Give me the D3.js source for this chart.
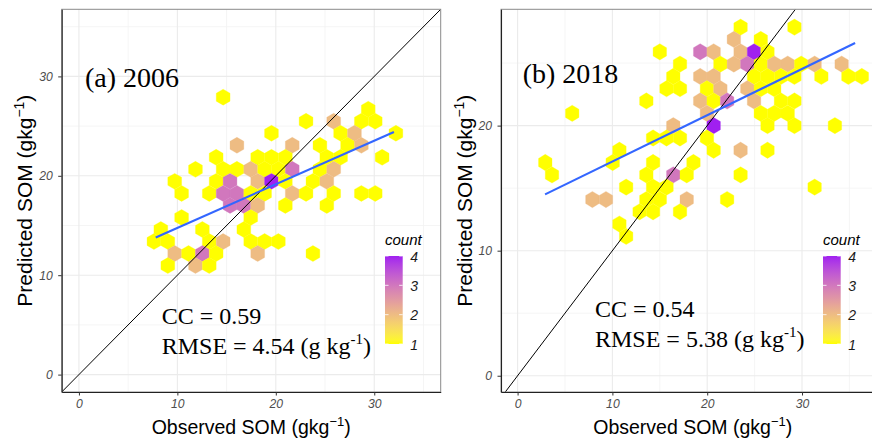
<!DOCTYPE html>
<html><head><meta charset="utf-8">
<script src="https://cdn.jsdelivr.net/npm/d3@7"></script>
<style>body{margin:0;background:#fff} svg{display:block}</style>
</head><body>
<svg id="chart" width="872" height="441"></svg>
<script>
// ---------------- data ----------------
const xTicks = [0, 10, 20, 30];
const xMinorTicks = [5, 15, 25, 35];
const aYTicks = [0, 10, 20, 30];
const aYMinorTicks = [5, 15, 25, 35];
const bYTicks = [0, 10, 20];
const bYMinorTicks = [5, 15, 25];
const countTicks = [1, 2, 3, 4];

// Panel (a) 2006 : hex-bin centres (observed, predicted) and counts
const aHexX = [
  14.65,
  29.39,
  23.07, 25.88, 28.69, 30.10,
  19.56, 26.58, 27.99, 32.20,
  16.05, 21.67, 24.48, 27.29, 28.69,
  13.94, 18.16, 19.56, 20.97, 25.18, 26.58, 30.80,
  11.84, 14.65, 16.05, 17.45, 18.86, 20.26, 21.67, 24.48, 25.88,
  9.73, 13.94, 15.35, 18.16, 19.56, 20.97, 23.77, 25.18,
  10.43, 13.24, 14.65, 16.05, 17.45, 18.86, 21.67, 23.07, 25.88, 28.69, 30.10,
  15.35, 16.75, 18.16, 20.97, 25.18,
  10.43, 17.45,
  8.32, 12.54, 16.75,
  7.62, 9.03, 13.24, 14.65, 17.45, 18.86, 20.26,
  9.73, 11.13, 12.54, 13.94, 18.16, 23.77,
  9.03, 11.84, 13.24
];
const aHexY = [
  27.91,
  26.70,
  25.49, 25.49, 25.49, 25.49,
  24.28, 24.28, 24.28, 24.28,
  23.07, 23.07, 23.07, 23.07, 23.07,
  21.86, 21.86, 21.86, 21.86, 21.86, 21.86, 21.86,
  20.65, 20.65, 20.65, 20.65, 20.65, 20.65, 20.65, 20.65, 20.65,
  19.44, 19.44, 19.44, 19.44, 19.44, 19.44, 19.44, 19.44,
  18.23, 18.23, 18.23, 18.23, 18.23, 18.23, 18.23, 18.23, 18.23, 18.23, 18.23,
  17.02, 17.02, 17.02, 17.02, 17.02,
  15.81, 15.81,
  14.60, 14.60, 14.60,
  13.39, 13.39, 13.39, 13.39, 13.39, 13.39, 13.39,
  12.18, 12.18, 12.18, 12.18, 12.18, 12.18,
  10.97, 10.97, 10.97
];
const aHexCount = [
  1,
  1,
  1, 2, 1, 1,
  1, 1, 2, 1,
  2, 2, 1, 1, 2,
  1, 1, 1, 1, 1, 1, 1,
  1, 1, 1, 2, 1, 1, 3, 1, 2,
  1, 1, 3, 2, 4, 1, 1, 2,
  1, 1, 3, 3, 1, 1, 2, 1, 1, 1, 1,
  3, 3, 2, 1, 1,
  1, 1,
  1, 1, 1,
  1, 1, 1, 2, 1, 1, 1,
  2, 1, 3, 1, 2, 1,
  1, 2, 1
];
const aFitX = [7.8, 32.0];
const aFitY = [13.8, 24.4];

// Panel (b) 2018
const bHexX = [
  23.52, 29.20,
  22.81, 25.65,
  15.00, 19.26, 20.68, 23.52, 24.94, 26.36,
  17.13, 21.39, 22.81, 24.23, 25.65, 27.07, 28.49, 29.91, 31.33, 34.18,
  16.42, 19.26, 20.68, 24.94, 26.36, 27.78, 29.20, 32.04, 34.89, 36.31,
  15.71, 17.13, 19.97, 21.39, 24.23, 25.65, 27.07,
  13.58, 19.26, 20.68, 22.10, 24.94, 27.78, 29.20,
  5.76, 19.97, 25.65, 27.07, 28.49,
  16.42, 20.68, 26.36, 29.20, 33.47,
  14.29, 15.71, 17.13, 19.97,
  10.74, 20.68, 23.52, 26.36,
  2.92, 10.03, 14.29, 18.55,
  3.63, 13.58, 16.42, 17.84, 23.52,
  11.45, 14.29, 15.71, 31.33,
  7.89, 9.32, 13.58, 15.00, 17.84, 22.10,
  12.87, 14.29, 17.13,
  10.74,
  11.45
];
const bHexY = [
  27.87, 27.87,
  26.89, 26.89,
  25.90, 25.90, 25.90, 25.90, 25.90, 25.90,
  24.92, 24.92, 24.92, 24.92, 24.92, 24.92, 24.92, 24.92, 24.92, 24.92,
  23.93, 23.93, 23.93, 23.93, 23.93, 23.93, 23.93, 23.93, 23.93, 23.93,
  22.95, 22.95, 22.95, 22.95, 22.95, 22.95, 22.95,
  21.97, 21.97, 21.97, 21.97, 21.97, 21.97, 21.97,
  20.98, 20.98, 20.98, 20.98, 20.98,
  20.00, 20.00, 20.00, 20.00, 20.00,
  19.01, 19.01, 19.01, 19.01,
  18.03, 18.03, 18.03, 18.03,
  17.05, 17.05, 17.05, 17.05,
  16.06, 16.06, 16.06, 16.06, 16.06,
  15.08, 15.08, 15.08, 15.08,
  14.09, 14.09, 14.09, 14.09, 14.09, 14.09,
  13.11, 13.11, 13.11,
  12.13,
  11.14
];
const bHexCount = [
  1, 1,
  2, 1,
  1, 3, 2, 2, 4, 1,
  1, 1, 2, 3, 1, 2, 2, 1, 2, 2,
  1, 2, 2, 1, 1, 1, 1, 1, 1, 1,
  1, 1, 1, 2, 2, 1, 1,
  1, 2, 1, 3, 2, 1, 1,
  1, 2, 1, 1, 1,
  2, 4, 1, 1, 1,
  1, 1, 1, 1,
  1, 1, 2, 1,
  1, 1, 1, 1,
  1, 1, 3, 1, 1,
  1, 1, 1, 1,
  2, 2, 1, 1, 2, 1,
  1, 1, 1,
  1,
  1
];
const bFitX = [2.9, 35.6];
const bFitY = [14.5, 26.6];

// ---------------- drawing ----------------
const SANS = "'Liberation Sans', Arial, sans-serif";
const SERIF = "'Liberation Serif', 'Times New Roman', serif";
const svg = d3.select('#chart');
const defs = svg.append('defs');
const countColor = d3.scaleLinear().domain([1, 4]).range(['#ffff00', '#a020f0']).interpolate(d3.interpolateLab);

function resolution(vals) {
  const u = Array.from(new Set(vals)).sort((p, q) => p - q);
  let r = Infinity;
  for (let i = 1; i < u.length; i++) { const d = u[i] - u[i - 1]; if (d > 0.05 && d < r) r = d; }
  return r;
}

function drawPanel(cfg) {
  const x = d3.scaleLinear().domain(cfg.xDomain).range([cfg.left, cfg.right]);
  const y = d3.scaleLinear().domain(cfg.yDomain).range([cfg.bottom, cfg.top]);
  const W = cfg.right - cfg.left, H = cfg.bottom - cfg.top;
  const g = svg.append('g');

  defs.append('clipPath').attr('id', 'clip' + cfg.id)
    .append('rect').attr('x', cfg.left).attr('y', cfg.top).attr('width', W).attr('height', H);

  g.append('rect').attr('x', cfg.left).attr('y', cfg.top).attr('width', W).attr('height', H).attr('fill', '#fff');

  // grid
  const grid = g.append('g');
  grid.selectAll('.vmin').data(xMinorTicks).join('line')
    .attr('x1', d => x(d)).attr('x2', d => x(d)).attr('y1', cfg.top).attr('y2', cfg.bottom)
    .attr('stroke', '#f2f2f2').attr('stroke-width', 0.8);
  grid.selectAll('.hmin').data(cfg.yMinor).join('line')
    .attr('y1', d => y(d)).attr('y2', d => y(d)).attr('x1', cfg.left).attr('x2', cfg.right)
    .attr('stroke', '#f2f2f2').attr('stroke-width', 0.8);
  grid.selectAll('.vmaj').data(xTicks).join('line')
    .attr('x1', d => x(d)).attr('x2', d => x(d)).attr('y1', cfg.top).attr('y2', cfg.bottom)
    .attr('stroke', '#ebebeb').attr('stroke-width', 1.1);
  grid.selectAll('.hmaj').data(cfg.yTicks).join('line')
    .attr('y1', d => y(d)).attr('y2', d => y(d)).attr('x1', cfg.left).attr('x2', cfg.right)
    .attr('stroke', '#ebebeb').attr('stroke-width', 1.1);

  // hexes
  const hx = resolution(cfg.hexX);
  const hy = resolution(cfg.hexY) / Math.sqrt(3) / 2 * 1.15;
  const offs = [[hx, hy], [0, 2 * hy], [-hx, hy], [-hx, -hy], [0, -2 * hy], [hx, -hy]];
  const cells = cfg.hexX.map((v, i) => ({ x: v, y: cfg.hexY[i], c: cfg.hexCount[i] }));
  const data = g.append('g').attr('clip-path', `url(#clip${cfg.id})`);
  data.selectAll('path.hex').data(cells).join('path')
    .attr('class', 'hex')
    .attr('d', d => 'M' + offs.map(o => [x(d.x + o[0]), y(d.y + o[1])].join(',')).join('L') + 'Z')
    .attr('fill', d => countColor(d.c))
    .attr('stroke', d => countColor(d.c)).attr('stroke-width', 0.3);

  // 1:1 line
  const lo = Math.max(cfg.xDomain[0], cfg.yDomain[0]), hi = Math.min(cfg.xDomain[1], cfg.yDomain[1]);
  data.append('line').attr('x1', x(lo)).attr('y1', y(lo)).attr('x2', x(hi)).attr('y2', y(hi))
    .attr('stroke', '#000').attr('stroke-width', 1);
  // fitted line
  data.append('path').datum(cfg.fitX.map((v, i) => [v, cfg.fitY[i]]))
    .attr('d', d3.line().x(d => x(d[0])).y(d => y(d[1])))
    .attr('stroke', '#3366ff').attr('stroke-width', 2.1).attr('fill', 'none');

  // border
  g.append('rect').attr('x', cfg.left).attr('y', cfg.top).attr('width', W).attr('height', H)
    .attr('fill', 'none').attr('stroke', '#8a8a8a').attr('stroke-width', 1);

  // axes
  const xa = g.append('g').attr('transform', `translate(0,${cfg.bottom})`)
    .call(d3.axisBottom(x).tickValues(xTicks).tickSize(3.5).tickSizeOuter(0).tickPadding(3.5));
  const ya = g.append('g').attr('transform', `translate(${cfg.left},0)`)
    .call(d3.axisLeft(y).tickValues(cfg.yTicks).tickSize(3.5).tickSizeOuter(0).tickPadding(5.5));
  [xa, ya].forEach(a => {
    a.select('.domain').attr('stroke', '#222').attr('stroke-width', 1.1);
    a.selectAll('.tick line').attr('stroke', '#333').attr('stroke-width', 1);
    a.selectAll('.tick text').attr('fill', '#4d4d4d').attr('font-family', SANS)
      .attr('font-size', 12.2).attr('font-style', 'italic');
  });

  // axis titles
  const xt = svg.append('text').attr('x', (cfg.left + cfg.right) / 2).attr('y', 434)
    .attr('text-anchor', 'middle').attr('font-family', SANS).attr('font-size', 19.5).attr('fill', '#000');
  xt.append('tspan').text('Observed SOM (gkg');
  xt.append('tspan').text('\u22121').attr('font-size', 13).attr('dy', -8);
  xt.append('tspan').text(')').attr('dy', 8);

  const yt = svg.append('text')
    .attr('transform', `translate(${cfg.yTitleX},${(cfg.top + cfg.bottom) / 2}) rotate(-90)`)
    .attr('text-anchor', 'middle').attr('font-family', SANS).attr('font-size', 21).attr('fill', '#000');
  yt.append('tspan').text('Predicted SOM (gkg');
  yt.append('tspan').text('\u22121').attr('font-size', 14).attr('dy', -8.5);
  yt.append('tspan').text(')').attr('dy', 8.5);

  // annotations
  svg.append('text').attr('x', cfg.label[0]).attr('y', cfg.label[1]).text(cfg.label[2])
    .attr('font-family', SERIF).attr('font-size', 28).attr('fill', '#000');
  svg.append('text').attr('x', cfg.cc[0]).attr('y', cfg.cc[1]).text(cfg.cc[2])
    .attr('font-family', SERIF).attr('font-size', 24).attr('fill', '#000');
  const rm = svg.append('text').attr('x', cfg.cc[0]).attr('y', cfg.rmse[1])
    .attr('font-family', SERIF).attr('font-size', 24).attr('fill', '#000');
  rm.append('tspan').text(cfg.rmse[0]);
  rm.append('tspan').text('-1').attr('font-size', 15).attr('dy', -10);
  rm.append('tspan').text(')').attr('dy', 10);

  // legend
  const lg = svg.append('g');
  const ls = d3.scaleLinear().domain([1, 4]).range([344, 256]);
  const gid = 'grad' + cfg.id;
  const grad = defs.append('linearGradient').attr('id', gid)
    .attr('x1', 0).attr('y1', 1).attr('x2', 0).attr('y2', 0);
  d3.range(0, 21).forEach(i => {
    grad.append('stop').attr('offset', i / 20).attr('stop-color', countColor(1 + 3 * i / 20));
  });
  const bw = 17.7;
  lg.append('text').attr('x', cfg.legX).attr('y', 244.5).text('count')
    .attr('font-family', SANS).attr('font-size', 15).attr('font-style', 'italic').attr('fill', '#000');
  lg.append('rect').attr('x', cfg.legX).attr('y', ls(4)).attr('width', bw).attr('height', ls(1) - ls(4))
    .attr('fill', `url(#${gid})`);
  lg.selectAll('line.lt').data(countTicks).join('line')
    .attr('x1', cfg.legX).attr('x2', cfg.legX + bw / 5).attr('y1', d => ls(d)).attr('y2', d => ls(d))
    .attr('stroke', '#fff').attr('stroke-width', 0.8);
  lg.selectAll('line.rt').data(countTicks).join('line')
    .attr('x1', cfg.legX + bw - bw / 5).attr('x2', cfg.legX + bw).attr('y1', d => ls(d)).attr('y2', d => ls(d))
    .attr('stroke', '#fff').attr('stroke-width', 0.8);
  lg.selectAll('text.lab').data(countTicks).join('text')
    .attr('x', cfg.legX + bw + 7.5).attr('y', d => ls(d) + 5.5).text(d => d)
    .attr('font-family', SANS).attr('font-size', 14).attr('font-style', 'italic').attr('fill', '#1a1a1a');
}

drawPanel({
  id: 'a', left: 61.7, right: 440.7, top: 9.3, bottom: 392,
  xDomain: [-1.75, 36.75], yDomain: [-1.75, 36.75],
  yTicks: aYTicks, yMinor: aYMinorTicks,
  hexX: aHexX, hexY: aHexY, hexCount: aHexCount, fitX: aFitX, fitY: aFitY,
  yTitleX: 32,
  label: [85, 86.5, '(a) 2006'],
  cc: [161.7, 324, 'CC = 0.59'],
  rmse: ['RMSE = 4.54 (g kg', 353.5],
  legX: 385
});
drawPanel({
  id: 'b', left: 501, right: 884.5, top: 9.3, bottom: 392,
  xDomain: [-1.75, 38.7], yDomain: [-1.3, 29.3],
  yTicks: bYTicks, yMinor: bYMinorTicks,
  hexX: bHexX, hexY: bHexY, hexCount: bHexCount, fitX: bFitX, fitY: bFitY,
  yTitleX: 472,
  label: [522.7, 83.3, '(b) 2018'],
  cc: [595, 317.3, 'CC = 0.54'],
  rmse: ['RMSE = 5.38 (g kg', 347.3],
  legX: 823
});
</script>
</body></html>
